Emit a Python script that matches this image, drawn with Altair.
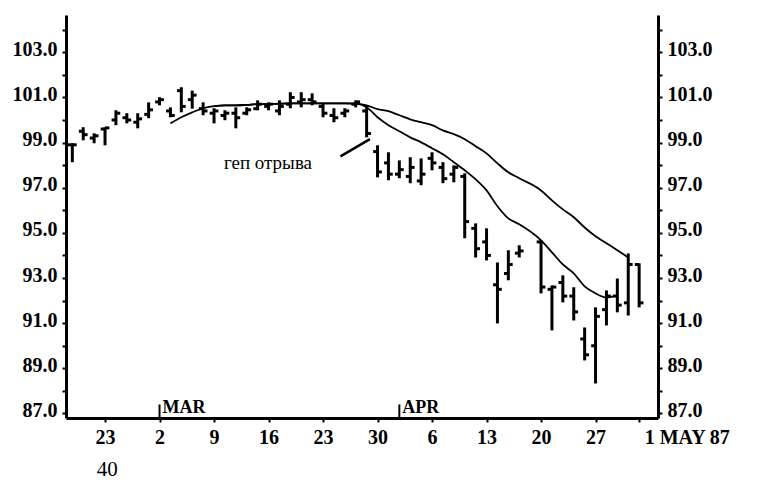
import altair as alt
import pandas as pd

# trading-day index (0 = Mon 23 Feb 1987); 39 = Good Friday (no trading)
day_idx = [-3, -2, -1, 0, 1, 2, 3, 4, 5, 6, 7, 8, 9, 10, 11, 12, 13, 14, 15, 16,
           17, 18, 19, 20, 21, 22, 23, 24, 25, 26, 27, 28, 29, 30, 31, 32, 33, 34,
           35, 36, 37, 38, 40, 41, 42, 43, 44, 45, 46, 47, 48, 49]
high = [98.97, 99.68, 99.41, 99.68, 100.43, 100.30, 100.30, 100.78, 101.01, 100.56,
        101.45, 101.30, 100.78, 100.52, 100.43, 100.56, 100.56, 100.87, 100.78, 100.87,
        101.23, 101.23, 101.18, 100.74, 100.52, 100.52, 100.87, 100.61, 98.88, 98.57,
        98.21, 98.35, 98.30, 98.57, 98.13, 97.99, 97.64, 95.42, 95.20, 93.69,
        94.23, 94.45, 94.67, 92.67, 93.12, 92.59, 90.81, 91.70, 92.45, 92.98, 94.09, 93.65]
low = [98.13, 99.10, 98.97, 98.88, 99.77, 99.85, 99.63, 100.08, 100.65, 100.12,
       100.34, 100.50, 100.21, 99.85, 99.99, 99.63, 100.21, 100.43, 100.43, 100.21,
       100.52, 100.56, 100.65, 100.12, 99.90, 100.12, 100.56, 99.23, 97.46, 97.33,
       97.42, 97.20, 97.11, 97.77, 97.20, 97.24, 94.76, 93.91, 93.78, 90.99,
       92.90, 93.91, 92.32, 90.68, 91.92, 91.12, 89.35, 88.33, 90.90, 91.48, 91.34, 91.70]
open_ = [98.90, 99.50, 99.20, 99.60, 100.00, 100.10, 99.90, 100.25, 100.80, 100.40,
         101.30, 100.90, 100.50, 100.30, 100.20, 100.30, 100.30, 100.50, 100.60, 100.40,
         100.70, 100.80, 100.90, 100.60, 100.20, 100.30, 100.70, 100.40, 98.60, 98.10,
         97.60, 97.50, 97.30, 98.30, 97.90, 97.60, 97.50, 95.20, 94.60, 92.70,
         93.20, 94.10, 94.60, 92.50, 92.80, 92.20, 90.30, 90.00, 91.60, 92.20, 91.90, 93.60]
close = [98.90, 99.35, 99.30, 99.65, 100.30, 100.00, 100.05, 100.45, 100.90, 100.20,
         100.60, 101.10, 100.40, 100.40, 100.30, 100.10, 100.45, 100.70, 100.70, 100.60,
         101.00, 100.90, 100.80, 100.30, 100.10, 100.40, 100.80, 99.40, 97.70, 97.60,
         97.80, 97.90, 97.60, 98.10, 97.40, 97.90, 95.50, 94.30, 94.00, 92.50,
         93.60, 94.20, 92.60, 92.60, 92.20, 91.50, 89.60, 91.30, 92.20, 91.80, 93.60, 91.90]

# moving averages
ma_short_idx = list(range(6, 39)) + list(range(40, 48))
ma_short = [99.85, 100.12, 100.34, 100.52, 100.61, 100.65, 100.65, 100.67, 100.70, 100.70,
            100.72, 100.74, 100.74, 100.74, 100.74, 100.74, 100.74, 100.72, 100.56, 100.12,
            99.77, 99.50, 99.23, 99.01, 98.75, 98.48, 98.13, 97.77, 97.37, 96.88,
            96.18, 95.64, 95.38, 94.67, 94.14, 93.60, 93.21, 92.63, 92.32, 92.14, 92.23]
ma_long_idx = list(range(10, 39)) + list(range(40, 49))
ma_long = [100.61, 100.65, 100.65, 100.67, 100.70, 100.70, 100.72, 100.74, 100.74, 100.74,
           100.74, 100.74, 100.74, 100.72, 100.65, 100.48, 100.39, 100.21, 100.03, 99.90,
           99.77, 99.54, 99.37, 99.15, 98.84, 98.52, 98.08, 97.68, 97.42,
           96.88, 96.44, 96.04, 95.69, 95.24, 94.85, 94.54, 94.23, 93.91]

week_ticks = [0, 5, 10, 15, 20, 25, 30, 35, 40, 45, 49]
week_labels = ["23", "2", "9", "16", "23", "30", "6", "13", "20", "27", "1 MAY 87"]
month_idx = [5, 27]
month_names = ["MAR", "APR"]
price_ticks = list(range(87, 105))

note_text = ["геп отрыва", "40"]
note_idx = [14.95, 0.2]
note_val = [98.08, 84.5]
note_size = [19, 21]
arrow_from = (21.6, 98.39)
arrow_to = (24.3, 99.15)

FONT = "Liberation Serif"

bars = pd.DataFrame({"idx": day_idx, "high": high, "low": low, "open": open_, "close": close})
short_df = pd.DataFrame({"idx": ma_short_idx, "ma": ma_short})
long_df = pd.DataFrame({"idx": ma_long_idx, "ma": ma_long})
month_df = pd.DataFrame({"idx": month_idx, "name": month_names})
note_df = pd.DataFrame({"idx": note_idx, "v": note_val, "t": note_text, "s": note_size})
arrow_df = pd.DataFrame({"x": [arrow_from[0]], "x2": [arrow_to[0]],
                         "y": [arrow_from[1]], "y2": [arrow_to[1]]})

xs = alt.Scale(domain=[-3.58, 50.73], nice=False, zero=False)
ys = alt.Scale(domain=[86.8, 104.65], nice=False, zero=False)

label_expr_x = " : ".join(
    f"datum.value == {v} ? '{l}'" for v, l in zip(week_ticks, week_labels)) + " : ''"

x_axis = alt.Axis(values=week_ticks, labelExpr=label_expr_x, grid=False,
                  domainWidth=3, domainColor="black", tickColor="black",
                  tickWidth=2, tickSize=4, labelFont=FONT, labelFontSize=20,
                  labelFontWeight="bold", labelColor="black", labelPadding=5,
                  labelFlush=False, labelOverlap=False, title=None,
                  labelAlign={"condition": {"test": "datum.value == 49", "value": "left"},
                              "value": "center"},
                  labelOffset={"condition": {"test": "datum.value == 49", "value": 5},
                               "value": 0})


def y_axis(orient):
    return alt.Axis(values=price_ticks, orient=orient,
                    labelExpr="datum.value % 2 == 1 ? format(datum.value, '.1f') : ''",
                    grid=False, domainWidth=3, domainColor="black", tickColor="black",
                    tickWidth=2, tickSize=4, labelFont=FONT, labelFontSize=20,
                    labelFontWeight="bold", labelColor="black", labelPadding=5,
                    labelOverlap=False, labelFlush=False, title=None, labelOffset=-3)


hl = alt.Chart(bars).mark_rule(color="black", strokeWidth=3).encode(
    x=alt.X("idx:Q", scale=xs, axis=x_axis),
    y=alt.Y("high:Q", scale=ys, axis=y_axis("left")),
    y2="low:Q",
)
op = alt.Chart(bars).transform_calculate(xl="datum.idx - 0.4").mark_rule(
    color="black", strokeWidth=3).encode(
    x=alt.X("xl:Q", scale=xs, axis=None), x2="idx:Q",
    y=alt.Y("open:Q", scale=ys, axis=None),
)
cl = alt.Chart(bars).transform_calculate(xr="datum.idx + 0.4").mark_rule(
    color="black", strokeWidth=3).encode(
    x=alt.X("idx:Q", scale=xs, axis=None), x2="xr:Q",
    y=alt.Y("close:Q", scale=ys, axis=None),
)
ma1 = alt.Chart(short_df).mark_line(color="black", strokeWidth=1.8, interpolate="monotone").encode(
    x=alt.X("idx:Q", scale=xs, axis=None),
    y=alt.Y("ma:Q", scale=ys, axis=y_axis("right")),
)
ma2 = alt.Chart(long_df).mark_line(color="black", strokeWidth=1.8, interpolate="monotone").encode(
    x=alt.X("idx:Q", scale=xs, axis=None),
    y=alt.Y("ma:Q", scale=ys, axis=None),
)
mtick = alt.Chart(month_df).mark_rule(color="black", strokeWidth=2).encode(
    x=alt.X("idx:Q", scale=xs, axis=None),
    y=alt.Y("datum_lo:Q", scale=ys, axis=None),
    y2="datum_hi:Q",
).transform_calculate(datum_lo="86.8", datum_hi="87.4")
mtext = alt.Chart(month_df).mark_text(
    align="left", baseline="middle", dx=3, font=FONT, fontSize=18,
    fontWeight="bold", color="black").encode(
    x=alt.X("idx:Q", scale=xs, axis=None),
    y=alt.Y("yy:Q", scale=ys, axis=None),
    text="name:N",
).transform_calculate(yy="87.25")
note = alt.Chart(note_df).mark_text(
    font=FONT, color="black", align="center", baseline="middle").encode(
    x=alt.X("idx:Q", scale=xs, axis=None),
    y=alt.Y("v:Q", scale=ys, axis=None),
    text="t:N",
    size=alt.Size("s:Q", scale=None, legend=None),
)
arrow = alt.Chart(arrow_df).mark_rule(color="black", strokeWidth=2.5).encode(
    x=alt.X("x:Q", scale=xs, axis=None), x2="x2:Q",
    y=alt.Y("y:Q", scale=ys, axis=None), y2="y2:Q",
)

chart = alt.layer(hl, op, cl, ma1, ma2, mtick, mtext, note, arrow).resolve_axis(
    x="independent", y="independent"
).properties(
    width=592, height=403,
    autosize=alt.AutoSizeParams(type="none"),
    padding={"left": 58, "top": 7, "right": 90, "bottom": 70},
    background="white",
).configure_view(stroke=None)

chart.save("out.html", embed_options={"renderer": "svg", "actions": False})
